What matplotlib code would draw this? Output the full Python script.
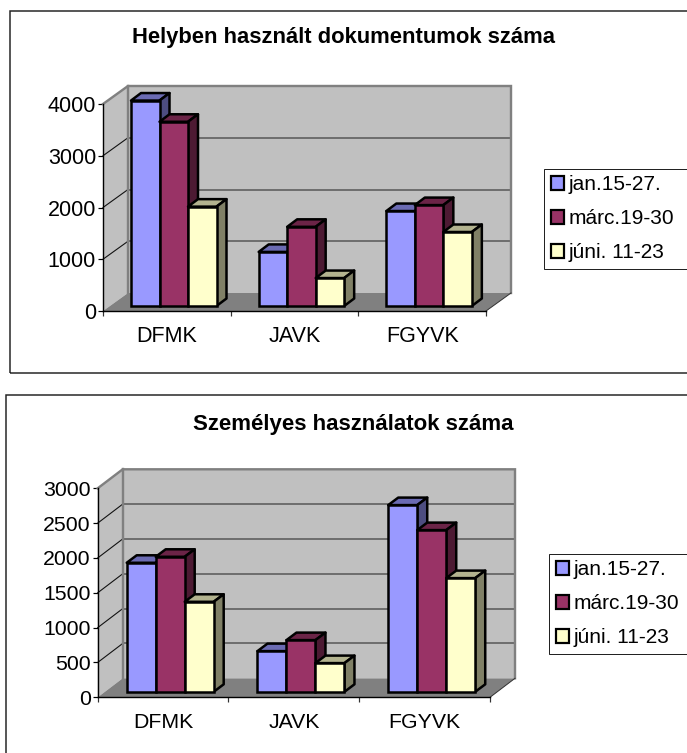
import matplotlib
matplotlib.use("Agg")
import matplotlib.pyplot as plt
from matplotlib.patches import Rectangle, Patch

plt.rcParams['font.family'] = ['Liberation Sans', 'DejaVu Sans']

W, H = 687, 753
DPI = 100

categories = ['DFMK', 'JAVK', 'FGYVK']
series_names = ['jan.15-27.', 'márc.19-30', 'júni. 11-23']

title_top = 'Helyben használt dokumentumok száma'
top_jan = [3970, 1045, 1835]
top_marc = [3560, 1530, 1950]
top_juni = [1920, 540, 1430]
top_ticks = [0, 1000, 2000, 3000, 4000]

title_bottom = 'Személyes használatok száma'
bottom_jan = [1852, 584, 2680]
bottom_marc = [1938, 742, 2321]
bottom_juni = [1292, 412, 1632]
bottom_ticks = [0, 500, 1000, 1500, 2000, 2500, 3000]

front_colors = ['#9999FF', '#993366', '#FFFFCC']
top_colors = ['#6B6BB3', '#6B2447', '#B3B38F']
side_colors = ['#4D4D80', '#4D1A33', '#808066']

fig = plt.figure(figsize=(W / DPI, H / DPI), dpi=DPI, facecolor='white')


def px(v):
    return v * 72 / DPI


def frame(x0, y0, x1, y1):
    fig.add_artist(Rectangle((x0 / W, 1 - y1 / H), (x1 - x0) / W, (y1 - y0) / H,
                             transform=fig.transFigure, fill=False,
                             ec='#222222', lw=px(1.5)))


def chart(series, ticks, title, left, right, y_zero, y_max, wall_dx, wall_dy,
          bar_start, bar_w, bar_base, title_xy, legend_box, font, title_font):
    ax = fig.add_axes([left / W, 1 - y_zero / H, (right - left) / W, (y_zero - y_max) / H])
    vmax = ticks[-1]
    ncat = len(categories)
    ax.set_xlim(0, ncat)
    ax.set_ylim(0, vmax)
    xs = (right - left) / ncat       # pixels per category
    ys = (y_zero - y_max) / vmax     # pixels per value unit
    dx, dy = wall_dx / xs, wall_dy / ys
    ax.patch.set_visible(False)
    for name, s in ax.spines.items():
        s.set_visible(name in ('left', 'bottom'))
        s.set_linewidth(px(1.4))
        s.set_zorder(4)

    wall = '#C0C0C0'
    edge = '#808080'
    # side wall, back wall, floor
    ax.fill([0, dx, dx, 0], [0, dy, vmax + dy, vmax], fc=wall, ec='none', zorder=1, clip_on=False)
    ax.fill([dx, ncat + dx, ncat + dx, dx], [dy, dy, vmax + dy, vmax + dy], fc=wall, ec='none',
            zorder=1, clip_on=False)
    ax.fill([0, ncat, ncat + dx, dx], [0, 0, dy, dy], fc=edge, ec='none', zorder=1.5, clip_on=False)
    # gridlines
    for t in ticks[1:-1]:
        ax.plot([dx, ncat + dx], [t + dy, t + dy], color='#555555', lw=px(1.5), zorder=2, clip_on=False)
        ax.plot([0, dx], [t, t + dy], color='#111111', lw=px(1.1), zorder=2, clip_on=False)
    # wall outlines
    ax.plot([0, dx, ncat + dx, ncat + dx], [vmax, vmax + dy, vmax + dy, dy], color=edge,
            lw=px(2.4), zorder=2.2, clip_on=False, solid_joinstyle='miter')
    ax.plot([dx, dx], [dy, vmax + dy], color=edge, lw=px(2.4), zorder=2.2, clip_on=False)
    ax.plot([ncat, ncat + dx], [0, dy], color='#333333', lw=px(1), zorder=2.2, clip_on=False)

    # bars: each bar stands on the floor, set back from the front edge
    b_dx, b_dy = 10 / xs, 7.5 / ys
    base = bar_base / ys
    z = 3.0
    lw = px(2.5)
    for c in range(ncat):
        group_x = c + bar_start / xs
        for k, vals in enumerate(series):
            x = group_x + k * bar_w / xs
            w = bar_w / xs
            top = vals[c] + base
            ax.bar(x, vals[c], width=w, bottom=base, align='edge', color=front_colors[k],
                   edgecolor='black', linewidth=lw, zorder=z + 0.02, clip_on=False)
            ax.fill([x, x + b_dx, x + w + b_dx, x + w],
                    [top, top + b_dy, top + b_dy, top], fc=top_colors[k], ec='black', lw=lw,
                    zorder=z, clip_on=False, joinstyle='round')
            ax.fill([x + w, x + w + b_dx, x + w + b_dx, x + w],
                    [base, base + b_dy, top + b_dy, top], fc=side_colors[k], ec='black', lw=lw,
                    zorder=z, clip_on=False, joinstyle='round')
            z += 0.1

    ax.set_yticks(ticks)
    ax.set_xticks(range(ncat + 1))
    ax.set_xticklabels([])
    ax.tick_params(axis='y', length=px(5), width=px(1.2), labelsize=font, pad=px(2), color='black')
    ax.tick_params(axis='x', length=px(5), width=px(1.2), color='#333333')
    for i, cat in enumerate(categories):
        ax.text(i + 0.5, -25 / ys, cat, ha='center', va='center',
                fontsize=font, color='black', clip_on=False)

    fig.text(title_xy[0] / W, 1 - title_xy[1] / H, title, ha='center', va='center',
             fontsize=title_font, fontweight='bold', color='black')

    # legend (frame runs past the right edge of the picture)
    lx0, ly0, lx1, ly1 = legend_box
    handles = [Patch(facecolor=front_colors[k], edgecolor='black', linewidth=px(2.2))
               for k in range(len(series))]
    leg = fig.legend(handles, series_names, loc='lower left', mode='expand', ncol=1,
                     bbox_to_anchor=(lx0 / W, 1 - ly1 / H, (lx1 - lx0) / W, (ly1 - ly0) / H),
                     bbox_transform=fig.transFigure, borderaxespad=0, fancybox=False,
                     frameon=True, edgecolor='#222222', framealpha=1, fontsize=15,
                     handlelength=0.62, handleheight=0.62, handletextpad=0.25, labelspacing=0.72,
                     borderpad=0.32, alignment='left')
    leg.get_frame().set_linewidth(px(1))
    return ax


frame(10, 11, W + 20, 373)
chart([top_jan, top_marc, top_juni], top_ticks, title_top,
      103, 486, 311, 104, 25, 18, 28, 28.5, 5, (344, 38), (544, 168, W + 30, 269), 15.5, 15.8)

frame(6, 395, W + 20, H + 20)
chart([bottom_jan, bottom_marc, bottom_juni], bottom_ticks, title_bottom,
      97.7, 490, 697.3, 488.3, 25, 19, 29, 29, 5.5, (353, 424), (549, 553, W + 30, 654), 15.3, 16)

fig.savefig('out.png', dpi=DPI, facecolor='white')
